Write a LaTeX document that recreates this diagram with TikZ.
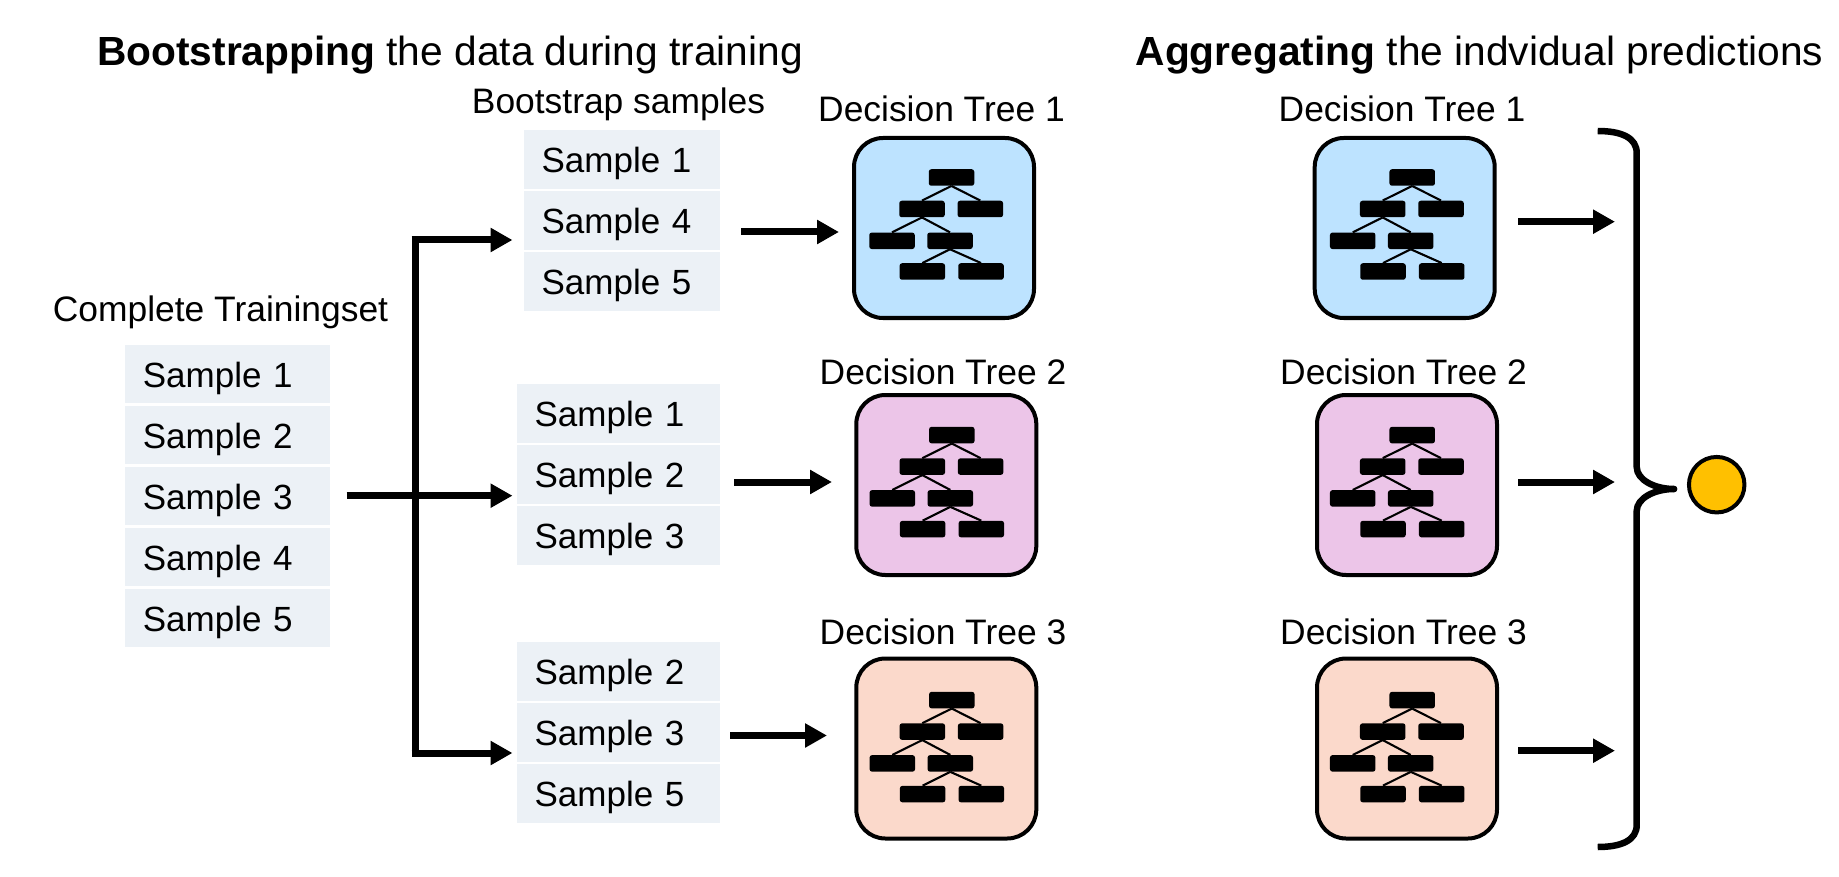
\documentclass[tikz,border=0pt]{standalone}
\usepackage{fontspec}
\setmainfont{Liberation Sans}
\usetikzlibrary{arrows.meta}

\definecolor{samplegray}{HTML}{ECF1F6}
\definecolor{treeblue}{HTML}{BDE3FF}
\definecolor{treepink}{HTML}{ECC5E8}
\definecolor{treepeach}{HTML}{FBD9CB}
\definecolor{votegold}{HTML}{FFC000}

\tikzset{
  samplerow/.style={fill=samplegray, anchor=north west, align=left, minimum height=58.7pt, inner ysep=0pt, inner xsep=17.4pt, text height=26pt, text depth=0pt, font=\fontsize{35}{40}\selectfont},
  caption/.style={anchor=base, inner sep=0pt, font=\fontsize{35.4}{40}\selectfont},
  heading/.style={anchor=base west, inner sep=0pt, font=\fontsize{40.7}{46}\selectfont},
  treebox/.style={draw=black, line width=4pt, rounded corners=29pt, minimum size=180pt, inner sep=0pt},
  leaf/.style={fill=black, rounded corners=2.5pt, minimum width=45.5pt, minimum height=16.5pt, inner sep=0pt},
  branch/.style={line width=2.1pt},
  flow/.style={line width=7pt, -{Triangle[length=22pt,width=23pt]}},
  trunk/.style={line width=7pt},
  vote/.style={circle, draw=black, fill=votegold, line width=4pt, minimum size=55.5pt, inner sep=0pt},
}

% one decision tree icon: name, colour, box x, box y, icon x, icon y
\newcommand{\treeicon}[6]{
  \node[treebox, fill=#2] (#1) at (#3,#4) {};
  \coordinate (#1-o) at (#5,#6);
  \node[leaf] (#1-a) at ([shift={(7.5,-50.5)}]#1-o) {};
  \node[leaf] (#1-b) at ([shift={(-22,-19)}]#1-o) {};
  \node[leaf] (#1-c) at ([shift={(36.3,-19)}]#1-o) {};
  \node[leaf] (#1-d) at ([shift={(-52,12.8)}]#1-o) {};
  \node[leaf] (#1-e) at ([shift={(6,12.8)}]#1-o) {};
  \node[leaf] (#1-f) at ([shift={(-21.7,43.5)}]#1-o) {};
  \node[leaf] (#1-g) at ([shift={(37,43.5)}]#1-o) {};
  \draw[branch] (#1-a.south) -- (#1-b.north);
  \draw[branch] (#1-a.south) -- (#1-c.north);
  \draw[branch] (#1-b.south) -- (#1-d.north);
  \draw[branch] (#1-b.south) -- (#1-e.north);
  \draw[branch] (#1-e.south) -- (#1-f.north);
  \draw[branch] (#1-e.south) -- (#1-g.north);
}

\begin{document}
\begin{tikzpicture}[x=1pt,y=-1pt]
  \useasboundingbox (0,0) rectangle (1839,877);

  % Titles of the two halves
  \node[heading] (titleleft) at (97,65.5) {\textbf{Bootstrapping} the data during training};
  \node[heading] (titleright) at (1135.5,65.5) {\textbf{Aggregating} the indvidual predictions};

  % Complete training set
  \node[caption] (fullcap) at (220.5,321.7) {Complete Trainingset};
  \foreach \row/\txt/\ypos in {1/Sample 1/344.5, 2/Sample 2/405.5, 3/Sample 3/466.5, 4/Sample 4/527.5, 5/Sample 5/588.5}
    \node[samplerow, inner xsep=18.2pt, text width=168.6pt] (full\row) at (124.5,\ypos) {\txt};

  % Bootstrap samples for the first tree
  \node[caption] (bootcap) at (618.5,113.8) {Bootstrap samples};
  \foreach \row/\txt/\ypos in {1/Sample 1/130, 2/Sample 4/191, 3/Sample 5/252}
    \node[samplerow, text width=161.2pt] (boota\row) at (524,\ypos) {\txt};

  % Bootstrap samples for the second tree
  \foreach \row/\txt/\ypos in {1/Sample 1/383.6, 2/Sample 2/444.6, 3/Sample 3/505.6}
    \node[samplerow, text width=168.4pt] (bootb\row) at (517,\ypos) {\txt};

  % Bootstrap samples for the third tree
  \foreach \row/\txt/\ypos in {1/Sample 2/642, 2/Sample 3/703, 3/Sample 5/764}
    \node[samplerow, text width=168.4pt] (bootc\row) at (517,\ypos) {\txt};

  % Trees of the bootstrapping half
  \node[caption] (capa) at (941.5,122) {Decision Tree 1};
  \treeicon{treea}{treeblue}{944}{228}{944}{228}
  \node[caption] (capb) at (943,384) {Decision Tree 2};
  \treeicon{treeb}{treepink}{946.3}{485}{944.3}{485.6}
  \node[caption] (capc) at (943,644) {Decision Tree 3};
  \treeicon{treec}{treepeach}{946.3}{748.5}{944.3}{750.6}

  % Trees of the aggregating half
  \node[caption] (capd) at (1402,122) {Decision Tree 1};
  \treeicon{treed}{treeblue}{1404.7}{228}{1404.7}{228}
  \node[caption] (cape) at (1403.5,384) {Decision Tree 2};
  \treeicon{treee}{treepink}{1407}{485}{1404.7}{485.6}
  \node[caption] (capf) at (1403.5,644) {Decision Tree 3};
  \treeicon{treef}{treepeach}{1407}{748.5}{1404.7}{750.6}

  % Ends of the arrows
  \coordinate (split) at (346.5,495.7);
  \coordinate (forkup) at (415,240);
  \coordinate (forkmid) at (415,495.7);
  \coordinate (forkdown) at (415,753);
  \coordinate (inup) at (512.5,240);
  \coordinate (inmid) at (512.5,495.7);
  \coordinate (indown) at (512.5,753);
  \coordinate (aout) at (741,232);
  \coordinate (ain) at (839,232);
  \coordinate (bout) at (734,482);
  \coordinate (bin) at (832,482);
  \coordinate (cout) at (730,735.5);
  \coordinate (cin) at (827,735.5);
  \coordinate (dout) at (1518,221.7);
  \coordinate (din) at (1615,221.7);
  \coordinate (eout) at (1518,482);
  \coordinate (ein) at (1615,482);
  \coordinate (fout) at (1518,750.7);
  \coordinate (fin) at (1615,750.7);

  % Fork from the training set to the samples
  \draw[trunk] (forkup) -- (forkdown);
  \draw[flow] ([xshift=-3.5pt]forkup) -- (inup);
  \draw[flow] (split) -- (inmid);
  \draw[flow] ([xshift=-3.5pt]forkdown) -- (indown);

  % Arrows into and out of the trees
  \draw[flow] (aout) -- (ain);
  \draw[flow] (bout) -- (bin);
  \draw[flow] (cout) -- (cin);
  \draw[flow] (dout) -- (din);
  \draw[flow] (eout) -- (ein);
  \draw[flow] (fout) -- (fin);

  % Curly bracket and the result
  \draw[line width=6.5pt, line join=round]
    (1597.7,131) .. controls (1622,131) and (1636.7,138) .. (1636.7,153) -- (1636.7,467)
    .. controls (1636.7,480) and (1655,489) .. (1674,489)
    .. controls (1655,489) and (1636.7,498) .. (1636.7,511) -- (1636.7,825)
    .. controls (1636.7,840) and (1622,847) .. (1597.7,847);
  \fill (1674,489) circle (3.25pt);
  \node[vote] (result) at (1716.7,484.7) {};
\end{tikzpicture}
\end{document}
